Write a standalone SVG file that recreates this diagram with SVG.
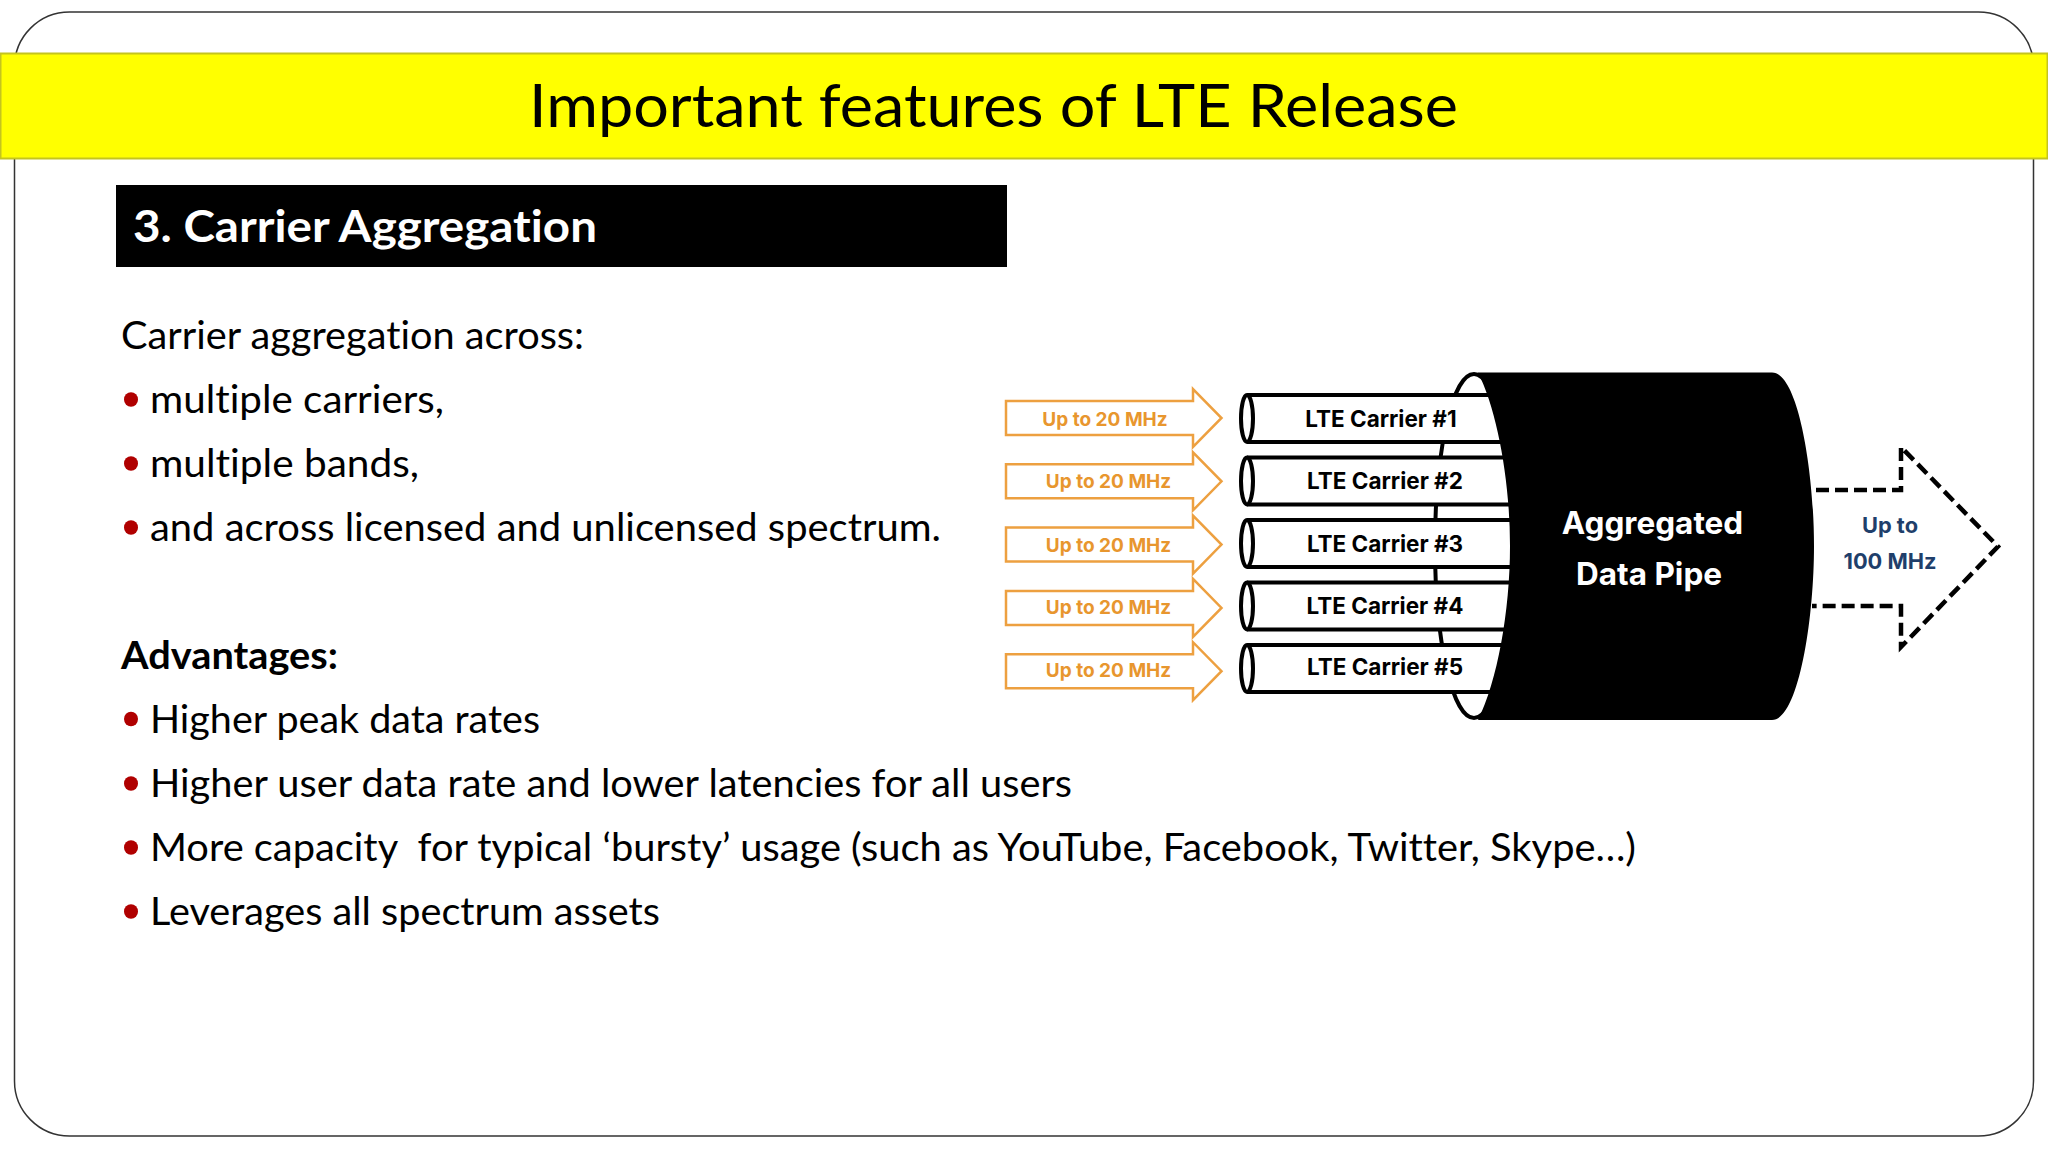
<svg xmlns="http://www.w3.org/2000/svg" width="2048" height="1152" viewBox="0 0 2048 1152">
<style>
text{font-variant-ligatures:none}
.b{font-family:"Lato","Open Sans","Liberation Sans",sans-serif;font-size:39px;fill:#000}
.o{fill:#fff;stroke:#eda040;stroke-width:2.5}
.ol{font-family:"Inter","Liberation Sans",sans-serif;font-weight:700;font-size:19px;fill:#e8962e;text-anchor:middle}
.c{font-family:"Inter","Liberation Sans",sans-serif;font-weight:700;font-size:22.500px;fill:#000;text-anchor:middle}
.p{fill:#fff;stroke:#000;stroke-width:4}
.w{font-family:"Inter","Liberation Sans",sans-serif;font-weight:700;font-size:31.500px;fill:#fff;text-anchor:middle}
.n{font-family:"Inter","Liberation Sans",sans-serif;font-weight:700;font-size:21.800px;fill:#1f3f6b;text-anchor:middle}
.d{fill:#b00000}
</style>
<defs>
<path id="ar" class="o" d="M1006 401H1193V389L1221.500 418L1193 447V435H1006Z"/>
<g id="pipe"><path class="p" d="M1247 395H1530V442H1247"/><ellipse class="p" cx="1247" cy="418.500" rx="6" ry="23.500"/></g>
</defs>
<rect width="2048" height="1152" fill="#fff"/>
<rect x="14.500" y="12" width="2019" height="1124" rx="55" ry="55" fill="#fff" stroke="#333" stroke-width="1.500"/>
<g id="title"><rect x="0.500" y="53.500" width="2047" height="105" fill="#ffff00" stroke="#c4c41e" stroke-width="2"/>
<text x="529" y="127" font-family="Lato,'Open Sans',sans-serif" font-size="60" textLength="929" lengthAdjust="spacingAndGlyphs">Important features of LTE Release</text></g>
<g id="heading"><rect x="116" y="185" width="891" height="82" fill="#000"/>
<text x="133" y="241.500" font-family="Lato,'Open Sans',sans-serif" font-weight="700" font-size="44" fill="#fff" textLength="464" lengthAdjust="spacingAndGlyphs">3. Carrier Aggregation</text></g>
<g id="body">
<text class="b" x="121" y="348.500" textLength="463" lengthAdjust="spacingAndGlyphs">Carrier aggregation across:</text>
<ellipse class="d" cx="131" cy="399.500" rx="7" ry="7.300"/><text class="b" x="150" y="412.500" textLength="294" lengthAdjust="spacingAndGlyphs">multiple carriers,</text>
<ellipse class="d" cx="131" cy="463.500" rx="7" ry="7.300"/><text class="b" x="150" y="476.500" textLength="269" lengthAdjust="spacingAndGlyphs">multiple bands,</text>
<ellipse class="d" cx="131" cy="527.500" rx="7" ry="7.300"/><text class="b" x="150" y="540.500" textLength="791" lengthAdjust="spacingAndGlyphs">and across licensed and unlicensed spectrum.</text>
<text class="b" x="121" y="668.500" font-weight="700" textLength="217" lengthAdjust="spacingAndGlyphs">Advantages:</text>
<ellipse class="d" cx="131" cy="719" rx="7" ry="7.300"/><text class="b" x="150" y="732.500" textLength="390" lengthAdjust="spacingAndGlyphs">Higher peak data rates</text>
<ellipse class="d" cx="131" cy="783.500" rx="7" ry="7.300"/><text class="b" x="150" y="796.500" textLength="922" lengthAdjust="spacingAndGlyphs">Higher user data rate and lower latencies for all users</text>
<ellipse class="d" cx="131" cy="847.500" rx="7" ry="7.300"/><text class="b" x="150" y="860.500" textLength="1486" lengthAdjust="spacingAndGlyphs" xml:space="preserve">More capacity  for typical ‘bursty’ usage (such as YouTube, Facebook, Twitter, Skype…)</text>
<ellipse class="d" cx="131" cy="911.500" rx="7" ry="7.300"/><text class="b" x="150" y="924.500" textLength="510" lengthAdjust="spacingAndGlyphs">Leverages all spectrum assets</text>
</g>
<g id="back-ellipse"><ellipse cx="1474" cy="546" rx="39" ry="172" fill="#fff" stroke="#000" stroke-width="4"/></g>
<g id="connectors">
<use href="#ar"/><use href="#ar" y="63.300"/><use href="#ar" y="126.600"/><use href="#ar" y="189.900"/><use href="#ar" y="253.200"/>
</g>
<g id="carrier1"><use href="#pipe"/><text class="c" x="1381" y="426.500">LTE Carrier #1</text></g>
<g id="carrier2"><use href="#pipe" y="62.500"/><text class="c" x="1385" y="489">LTE Carrier #2</text></g>
<g id="carrier3"><use href="#pipe" y="125"/><text class="c" x="1385" y="552">LTE Carrier #3</text></g>
<g id="carrier4"><use href="#pipe" y="187.500"/><text class="c" x="1385" y="614">LTE Carrier #4</text></g>
<g id="carrier5"><use href="#pipe" y="250"/><text class="c" x="1385" y="674.500">LTE Carrier #5</text></g>
<g id="pipe-main"><path d="M1478 372.500H1772C1798 372.500 1814 470 1814 546C1814 622 1798 720 1772 720H1478C1497 682 1510 612 1510 546C1510 480 1497 410 1478 372.500Z" fill="#000"/>
<text class="w" x="1652.500" y="534">Aggregated</text><text class="w" x="1649" y="584.500">Data Pipe</text></g>
<g id="labels">
<text class="ol" x="1105" y="425.500">Up to 20 MHz</text><text class="ol" x="1108.500" y="487.500">Up to 20 MHz</text><text class="ol" x="1108.500" y="551.500">Up to 20 MHz</text><text class="ol" x="1108.500" y="613.500">Up to 20 MHz</text><text class="ol" x="1108.500" y="676.500">Up to 20 MHz</text></g>
<g id="output"><path d="M1816 490H1901V447L1998 546.500L1901 647V606H1812" fill="none" stroke="#000" stroke-width="4.500" stroke-dasharray="13 6"/>
<text class="n" x="1890" y="533">Up to</text><text class="n" x="1890" y="569">100 MHz</text></g>
</svg>
